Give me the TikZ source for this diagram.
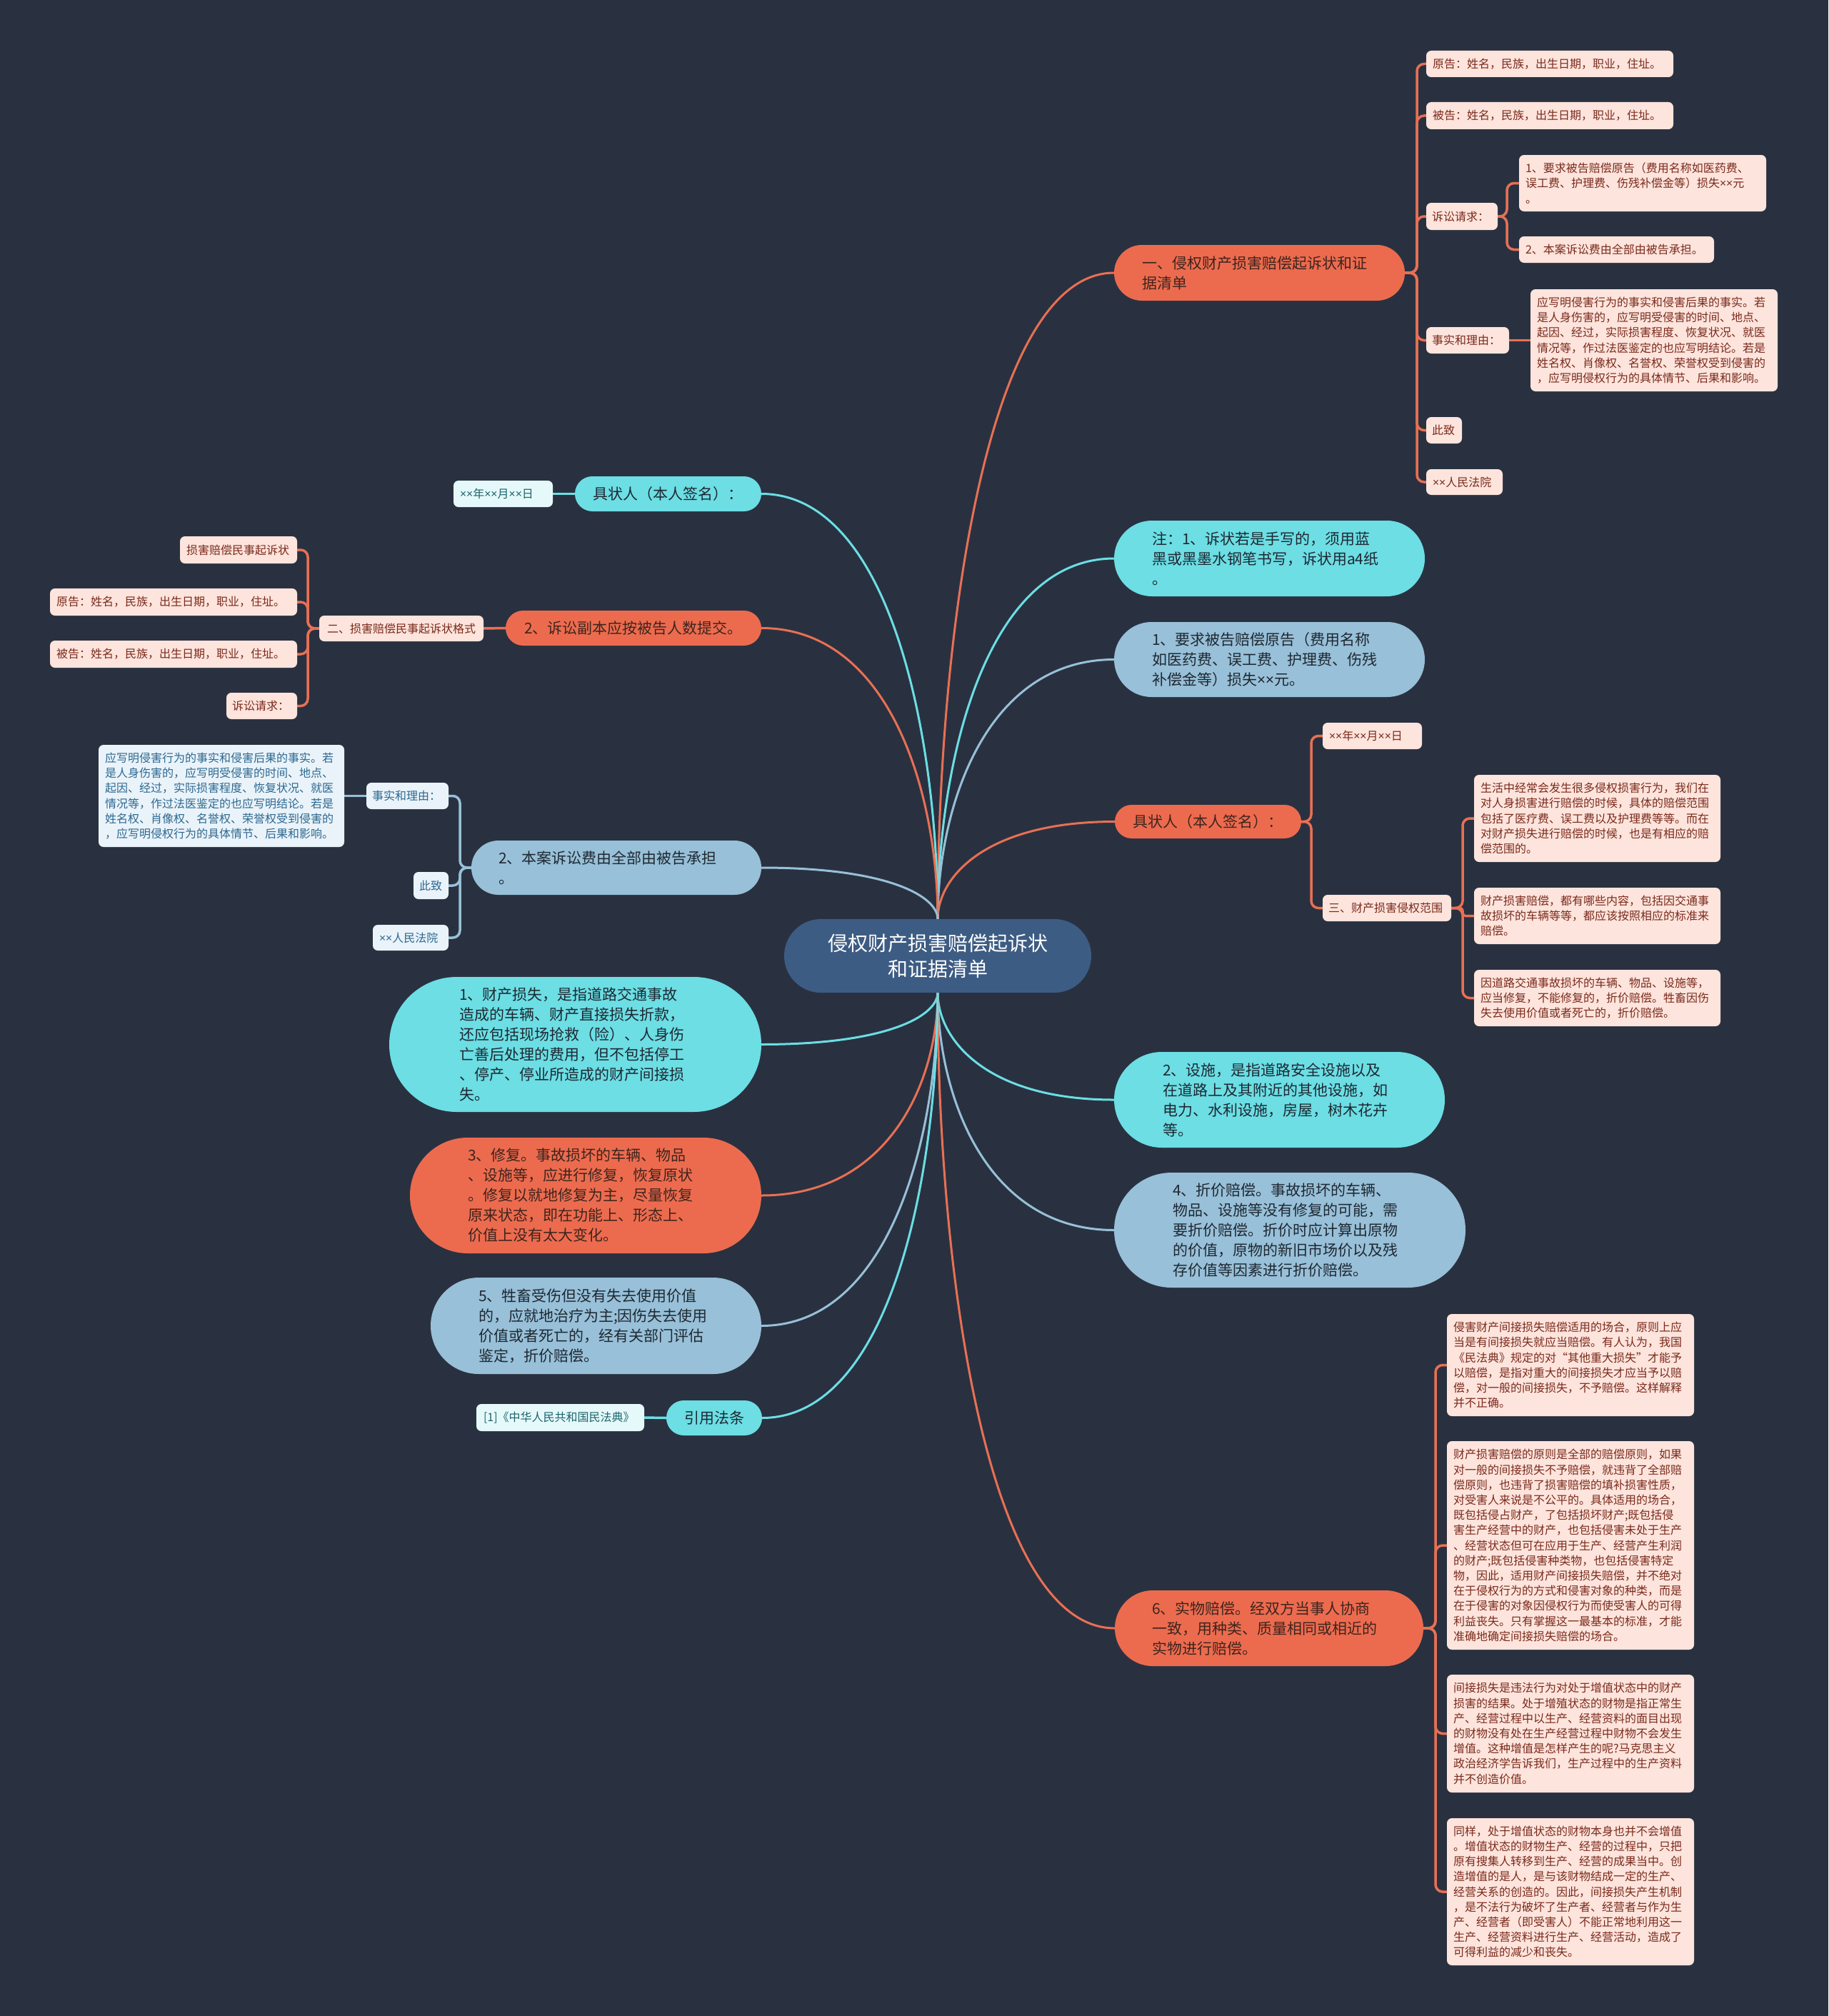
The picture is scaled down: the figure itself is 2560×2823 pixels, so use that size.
\documentclass[tikz,border=0pt]{standalone}
\usepackage{fontspec}
\setmainfont{Noto Sans CJK SC}
\newfontfamily\latinf{Noto Sans}
\newcommand\X{{\latinf ×}}
\usetikzlibrary{calc}
\definecolor{bg}{RGB}{41,49,64}
\definecolor{cfill}{RGB}{61,92,131}
\definecolor{orng}{RGB}{236,107,78}
\definecolor{cyn}{RGB}{108,222,228}
\definecolor{lblue}{RGB}{152,192,216}
\definecolor{otext}{RGB}{62,36,30}
\definecolor{dtext}{RGB}{30,40,50}
\definecolor{ochfill}{RGB}{253,228,220}
\definecolor{ochtext}{RGB}{122,42,28}
\definecolor{cchfill}{RGB}{230,249,250}
\definecolor{cchtext}{RGB}{28,100,108}
\definecolor{bchfill}{RGB}{234,243,249}
\definecolor{bchtext}{RGB}{44,104,145}
\definecolor{oline}{RGB}{232,112,84}
\definecolor{cline}{RGB}{108,222,228}
\definecolor{bline}{RGB}{152,192,216}
\newcommand\fbig{\fontsize{28}{36}\selectfont}
\newcommand\fmid{\fontsize{21}{28}\selectfont}
\newcommand\fsmall{\fontsize{16}{21.2}\selectfont}
\pgfdeclarelayer{bglayer}
\pgfdeclarelayer{linelayer}
\pgfsetlayers{bglayer,linelayer,main}
\tikzset{
 nd/.style={shape=rectangle, inner ysep=0pt, outer sep=0pt},
 pill/.style={nd, rounded corners=\myrr pt},
 sbox/.style={nd, rounded corners=7pt, font=\fsmall},
 ctr/.style={pill, fill=cfill, text=white, font=\fbig},
 opill/.style={pill, fill=orng, text=otext, font=\fmid},
 cpill/.style={pill, fill=cyn, text=dtext, font=\fmid},
 bpill/.style={pill, fill=lblue, text=dtext, font=\fmid},
 obox/.style={sbox, fill=ochfill, text=ochtext},
 cbox/.style={sbox, fill=cchfill, text=cchtext},
 bbox/.style={sbox, fill=bchfill, text=bchtext},
 mline/.style={line width=3pt},
 kline/.style={line width=3.5pt, rounded corners=10pt},
}
\newcommand\mk[9]{%
 \pgfmathsetmacro\mytw{#5-#3-2*#7}%
 \pgfmathsetmacro\myww{#5-#3}%
 \pgfmathsetmacro\myhh{#6-#4}%
 \pgfmathsetmacro\myrr{(#6-#4)/2-0.05}%
 \node[#2, anchor=north west, inner xsep=#7pt, text width=\mytw pt, minimum width=\myww pt, minimum height=\myhh pt, align=#8] (#1) at (#3,#4) {#9};%
}
\newcommand\mc[3]{\draw[mline,#1] (#2) .. controls ($(#2)!0.43!(#2|-#3)$) and ($(#3)!0.73!(#2|-#3)$) .. (#3);}
\newcommand\el[4]{\draw[kline,#1] (#2) -- ++(#3,0) |- (#4);}
\begin{document}
\begin{tikzpicture}[x=1pt,y=-1pt]
\begin{pgfonlayer}{bglayer}
\fill[bg] (0,0) rectangle (2560,2823);
\end{pgfonlayer}
\useasboundingbox (0,0) rectangle (2560,2823);

% centre
\mk{c}{ctr}{1098}{1287}{1528}{1390}{20}{center}{侵权财产损害赔偿起诉状\\和证据清单}

% right main nodes
\mk{R1}{opill}{1560}{343}{1967}{421}{39}{left}{一、侵权财产损害赔偿起诉状和证\\据清单}
\mk{R2}{cpill}{1560}{729}{1995}{835}{53}{left}{注：1、诉状若是手写的，须用蓝\\黑或黑墨水钢笔书写，诉状用a4纸\\。}
\mk{R3}{bpill}{1560}{871}{1995}{976}{53}{left}{1、要求被告赔偿原告（费用名称\\如医药费、误工费、护理费、伤残\\补偿金等）损失\X\X 元。}
\mk{R4}{opill}{1561}{1127}{1822}{1174}{20}{center}{具状人（本人签名）：}
\mk{R5}{cpill}{1560}{1473}{2023}{1607}{68}{left}{2、设施，是指道路安全设施以及\\在道路上及其附近的其他设施，如\\电力、水利设施，房屋，树木花卉\\等。}
\mk{R6}{bpill}{1560}{1642}{2052}{1803}{82}{left}{4、折价赔偿。事故损坏的车辆、\\物品、设施等没有修复的可能，需\\要折价赔偿。折价时应计算出原物\\的价值，原物的新旧市场价以及残\\存价值等因素进行折价赔偿。}
\mk{R7}{opill}{1561}{2227}{1993}{2333}{52}{left}{6、实物赔偿。经双方当事人协商\\一致，用种类、质量相同或相近的\\实物进行赔偿。}

% left main nodes
\mk{L1}{cpill}{805}{667}{1066}{716}{20}{center}{具状人（本人签名）：}
\mk{L2}{opill}{708}{855}{1066}{904}{20}{center}{2、诉讼副本应按被告人数提交。}
\mk{L3}{bpill}{660}{1177}{1066}{1253}{38}{left}{2、本案诉讼费由全部由被告承担\\。}
\mk{L4}{cpill}{545}{1368}{1066}{1557}{98}{left}{1、财产损失，是指道路交通事故\\造成的车辆、财产直接损失折款，\\还应包括现场抢救（险）、人身伤\\亡善后处理的费用，但不包括停工\\、停产、停业所造成的财产间接损\\失。}
\mk{L5}{opill}{574}{1593}{1066}{1755}{81}{left}{3、修复。事故损坏的车辆、物品\\、设施等，应进行修复，恢复原状\\。修复以就地修复为主，尽量恢复\\原来状态，即在功能上、形态上、\\价值上没有太大变化。}
\mk{L6}{bpill}{603}{1789}{1066}{1924}{67}{left}{5、牲畜受伤但没有失去使用价值\\的，应就地治疗为主;因伤失去使用\\价值或者死亡的，经有关部门评估\\鉴定，折价赔偿。}
\mk{L7}{cpill}{933}{1961}{1067}{2010}{20}{center}{引用法条}

% R1 children
\mk{r1a}{obox}{1997}{71}{2343}{108}{9}{left}{原告：姓名，民族，出生日期，职业，住址。}
\mk{r1b}{obox}{1997}{143}{2343}{181}{9}{left}{被告：姓名，民族，出生日期，职业，住址。}
\mk{r1c}{obox}{1997}{284}{2097}{322}{8}{left}{诉讼请求：}
\mk{r1c1}{obox}{2127}{217}{2473}{296}{9}{left}{1、要求被告赔偿原告（费用名称如医药费、\\误工费、护理费、伤残补偿金等）损失\X\X 元\\。}
\mk{r1c2}{obox}{2127}{331}{2400}{368}{9}{left}{2、本案诉讼费由全部由被告承担。}
\mk{r1d}{obox}{1997}{458}{2113}{495}{8}{left}{事实和理由：}
\mk{r1d1}{obox}{2143}{405}{2489}{548}{9}{left}{应写明侵害行为的事实和侵害后果的事实。若\\是人身伤害的，应写明受侵害的时间、地点、\\起因、经过，实际损害程度、恢复状况、就医\\情况等，作过法医鉴定的也应写明结论。若是\\姓名权、肖像权、名誉权、荣誉权受到侵害的\\，应写明侵权行为的具体情节、后果和影响。}
\mk{r1e}{obox}{1997}{584}{2047}{621}{8}{left}{此致}
\mk{r1f}{obox}{1997}{657}{2104}{693}{9}{left}{\X\X 人民法院}

% R4 children
\mk{r4a}{obox}{1852}{1012}{1991}{1049}{9}{left}{\X\X 年\X\X 月\X\X 日}
\mk{r4b}{obox}{1852}{1253}{2032}{1290}{8}{left}{三、财产损害侵权范围}
\mk{r4b1}{obox}{2064}{1085}{2409}{1207}{9}{left}{生活中经常会发生很多侵权损害行为，我们在\\对人身损害进行赔偿的时候，具体的赔偿范围\\包括了医疗费、误工费以及护理费等等。而在\\对财产损失进行赔偿的时候，也是有相应的赔\\偿范围的。}
\mk{r4b2}{obox}{2064}{1243}{2409}{1322}{9}{left}{财产损害赔偿，都有哪些内容，包括因交通事\\故损坏的车辆等等，都应该按照相应的标准来\\赔偿。}
\mk{r4b3}{obox}{2064}{1358}{2409}{1437}{9}{left}{因道路交通事故损坏的车辆、物品、设施等，\\应当修复，不能修复的，折价赔偿。牲畜因伤\\失去使用价值或者死亡的，折价赔偿。}

% R7 children
\mk{r7a}{obox}{2026}{1840}{2372}{1983}{9}{left}{侵害财产间接损失赔偿适用的场合，原则上应\\当是有间接损失就应当赔偿。有人认为，我国\\《民法典》规定的对“其他重大损失”才能予\\以赔偿，是指对重大的间接损失才应当予以赔\\偿，对一般的间接损失，不予赔偿。这样解释\\并不正确。}
\mk{r7b}{obox}{2026}{2018}{2372}{2310}{9}{left}{财产损害赔偿的原则是全部的赔偿原则，如果\\对一般的间接损失不予赔偿，就违背了全部赔\\偿原则，也违背了损害赔偿的填补损害性质，\\对受害人来说是不公平的。具体适用的场合，\\既包括侵占财产，了包括损坏财产;既包括侵\\害生产经营中的财产，也包括侵害未处于生产\\、经营状态但可在应用于生产、经营产生利润\\的财产;既包括侵害种类物，也包括侵害特定\\物，因此，适用财产间接损失赔偿，并不绝对\\在于侵权行为的方式和侵害对象的种类，而是\\在于侵害的对象因侵权行为而使受害人的可得\\利益丧失。只有掌握这一最基本的标准，才能\\准确地确定间接损失赔偿的场合。}
\mk{r7c}{obox}{2026}{2345}{2372}{2510}{9}{left}{间接损失是违法行为对处于增值状态中的财产\\损害的结果。处于增殖状态的财物是指正常生\\产、经营过程中以生产、经营资料的面目出现\\的财物没有处在生产经营过程中财物不会发生\\增值。这种增值是怎样产生的呢?马克思主义\\政治经济学告诉我们，生产过程中的生产资料\\并不创造价值。}
\mk{r7d}{obox}{2026}{2546}{2372}{2752}{9}{left}{同样，处于增值状态的财物本身也并不会增值\\。增值状态的财物生产、经营的过程中，只把\\原有搜集人转移到生产、经营的成果当中。创\\造增值的是人，是与该财物结成一定的生产、\\经营关系的创造的。因此，间接损失产生机制\\，是不法行为破坏了生产者、经营者与作为生\\产、经营者（即受害人）不能正常地利用这一\\生产、经营资料进行生产、经营活动，造成了\\可得利益的减少和丧失。}

% L1 child
\mk{l1a}{cbox}{635}{673}{774}{710}{9}{left}{\X\X 年\X\X 月\X\X 日}
% L2 children
\mk{l2a}{obox}{447}{862}{677}{898}{10}{center}{二、损害赔偿民事起诉状格式}
\mk{l2a1}{obox}{252}{751}{416}{789}{9}{left}{损害赔偿民事起诉状}
\mk{l2a2}{obox}{70}{824}{416}{862}{9}{left}{原告：姓名，民族，出生日期，职业，住址。}
\mk{l2a3}{obox}{70}{897}{416}{935}{9}{left}{被告：姓名，民族，出生日期，职业，住址。}
\mk{l2a4}{obox}{317}{970}{416}{1007}{8}{left}{诉讼请求：}
% L3 children
\mk{l3a}{bbox}{513}{1096}{628}{1133}{8}{left}{事实和理由：}
\mk{l3a1}{bbox}{138}{1043}{482}{1186}{9}{left}{应写明侵害行为的事实和侵害后果的事实。若\\是人身伤害的，应写明受侵害的时间、地点、\\起因、经过，实际损害程度、恢复状况、就医\\情况等，作过法医鉴定的也应写明结论。若是\\姓名权、肖像权、名誉权、荣誉权受到侵害的\\，应写明侵权行为的具体情节、后果和影响。}
\mk{l3b}{bbox}{579}{1221}{628}{1259}{8}{left}{此致}
\mk{l3c}{bbox}{522}{1295}{628}{1331}{9}{left}{\X\X 人民法院}
% L7 child
\mk{l7a}{cbox}{667}{1966}{902}{2004}{10}{left}{[1]《中华人民共和国民法典》}

\begin{pgfonlayer}{linelayer}
% main connectors
\mc{oline}{c.north}{R1.west}
\mc{cline}{c.north}{R2.west}
\mc{bline}{c.north}{R3.west}
\mc{oline}{c.north}{R4.west}
\mc{cline}{c.south}{R5.west}
\mc{bline}{c.south}{R6.west}
\mc{oline}{c.south}{R7.west}
\mc{cline}{c.north}{L1.east}
\mc{oline}{c.north}{L2.east}
\mc{bline}{c.north}{L3.east}
\mc{cline}{c.south}{L4.east}
\mc{oline}{c.south}{L5.east}
\mc{bline}{c.south}{L6.east}
\mc{cline}{c.south}{L7.east}
% R1 children
\el{oline}{R1.east}{17}{r1a.west}
\el{oline}{R1.east}{17}{r1b.west}
\el{oline}{R1.east}{17}{r1c.west}
\el{oline}{R1.east}{17}{r1d.west}
\el{oline}{R1.east}{17}{r1e.west}
\el{oline}{R1.east}{17}{r1f.west}
\el{oline}{r1c.east}{13}{r1c1.west}
\el{oline}{r1c.east}{13}{r1c2.west}
\draw[kline,oline] (r1d.east) -- (r1d1.west);
% R4 children
\el{oline}{R4.east}{14}{r4a.west}
\el{oline}{R4.east}{14}{r4b.west}
\el{oline}{r4b.east}{16}{r4b1.west}
\draw[kline,oline,rounded corners=4pt] (r4b.east) -- ++(16,0) |- (r4b2.west);
\el{oline}{r4b.east}{16}{r4b3.west}
% R7 children
\el{oline}{R7.east}{17}{r7a.west}
\el{oline}{R7.east}{17}{r7b.west}
\el{oline}{R7.east}{17}{r7c.west}
\el{oline}{R7.east}{17}{r7d.west}
% left children
\draw[kline,cline] (L1.west) -- (l1a.east);
\draw[kline,oline] (L2.west) -- (l2a.east);
\el{oline}{l2a.west}{-16}{l2a1.east}
\el{oline}{l2a.west}{-16}{l2a2.east}
\el{oline}{l2a.west}{-16}{l2a3.east}
\el{oline}{l2a.west}{-16}{l2a4.east}
\el{bline}{L3.west}{-16}{l3a.east}
\el{bline}{L3.west}{-16}{l3b.east}
\el{bline}{L3.west}{-16}{l3c.east}
\draw[kline,bline] (l3a.west) -- (l3a1.east);
\draw[kline,cline] (L7.west) -- (l7a.east);
\end{pgfonlayer}
\end{tikzpicture}
\end{document}
